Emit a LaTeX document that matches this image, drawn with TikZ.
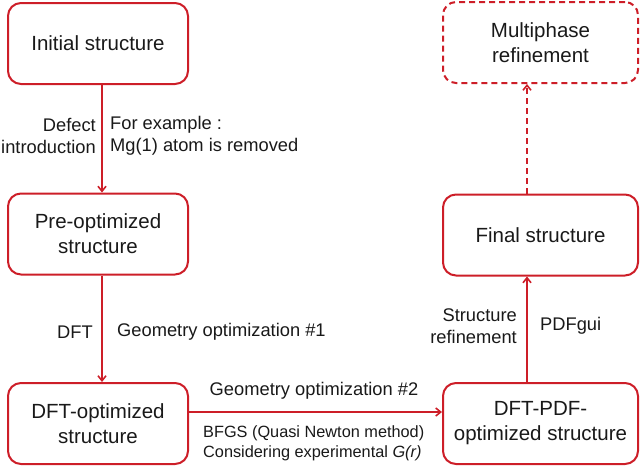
\documentclass[tikz,border=0pt]{standalone}
\usepackage{fontspec}
\setmainfont{Liberation Sans}
\usetikzlibrary{arrows.meta}
\definecolor{flowred}{RGB}{205,30,40}
\definecolor{txt}{RGB}{25,25,25}
\tikzset{
  x=1pt, y=1pt,
  box/.style={draw=flowred, line width=2pt, rounded corners=13pt, align=center,
    text=txt, font=\fontsize{20.5}{25}\selectfont, inner sep=0pt},
  lbox/.style={box, minimum width=180pt, minimum height=81pt},
  rbox/.style={box, minimum width=195pt, minimum height=81pt},
  lab/.style={text=txt, font=\fontsize{18.3}{21.5}\selectfont, inner sep=0pt},
  small/.style={text=txt, font=\fontsize{16.3}{20}\selectfont, inner sep=0pt, align=left},
  flow/.style={draw=flowred, line width=1.6pt, -{Straight Barb[length=5pt,width=8pt,line width=1.6pt]}},
}
\begin{document}
\begin{tikzpicture}
\useasboundingbox (0,0) rectangle (640,-466);
% boxes
\node[lbox] (init) at (98,-43.5) {Initial structure};
\node[lbox] (pre) at (98,-234) {Pre-optimized\\structure};
\node[lbox] (dft) at (98,-423.5) {DFT-optimized\\structure};
\node[rbox, dashed, dash pattern=on 6pt off 4pt] (multi) at (540.5,-42.5) {Multiphase\\refinement};
\node[rbox] (final) at (540.5,-235) {Final structure};
\node[rbox] (dftpdf) at (540.5,-423.5) {DFT-PDF-\\optimized structure};
% connector guides
\coordinate (lx) at (102,0);
\coordinate (rx) at (527,0);
\coordinate (hy) at (0,-412);
% connectors
\draw[flow] (init.south -| lx) -- (pre.north -| lx);
\draw[flow] (pre.south -| lx) -- (dft.north -| lx);
\draw[flow, line width=1.2pt] (dft.east |- hy) -- (dftpdf.west |- hy);
\draw[flow] (dftpdf.north -| rx) -- (final.south -| rx);
\draw[flow, dash pattern=on 6pt off 4pt] (final.north -| rx) -- (multi.south -| rx);
% labels
\node[lab, anchor=east, align=right] (defect) at (96,-136) {Defect\\introduction};
\node[lab, anchor=west, align=left] (example) at (110,-136) {For example :\\Mg(1) atom is removed};
\node[lab, anchor=east] (dftlab) at (93,-332) {DFT};
\node[lab, anchor=west] (geo1) at (117,-332) {Geometry optimization \#1};
\node[lab] (geo2) at (314,-391) {Geometry optimization \#2};
\node[small, anchor=west] (bfgs) at (203,-443) {BFGS (Quasi Newton method)\\Considering experimental \textit{G(r)}};
\node[lab, anchor=east, align=right] (sref) at (517,-326) {Structure\\refinement};
\node[lab, anchor=west] (pdfgui) at (540,-326) {PDFgui};
\end{tikzpicture}
\end{document}
